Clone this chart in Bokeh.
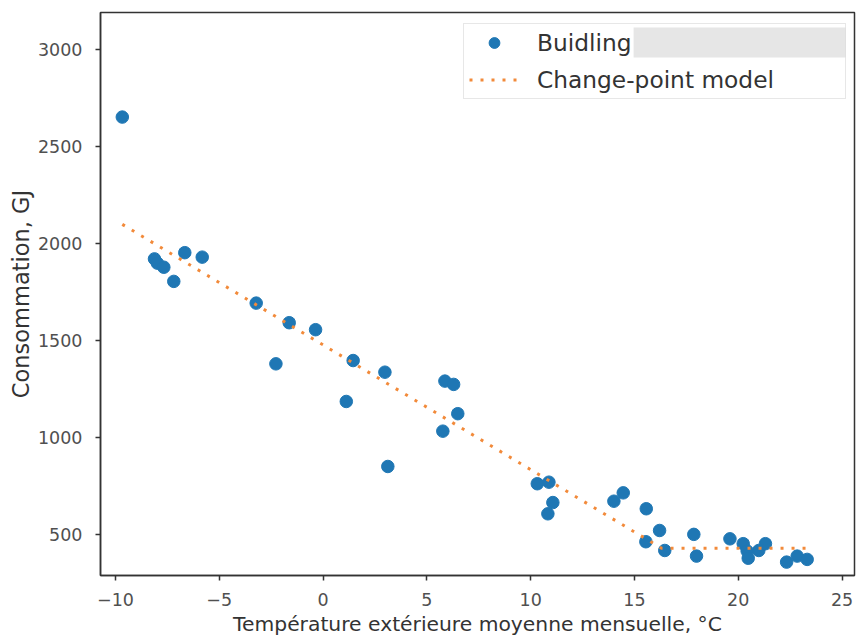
from bokeh.plotting import figure
from bokeh.models import (Range1d, FixedTicker, Legend, LegendItem,
                          BoxAnnotation, ColumnDataSource)
from bokeh.embed import file_html
from bokeh.resources import INLINE

# ---- data ----
temp = [-9.67, -8.12, -7.98, -7.67, -7.19, -6.66, -5.82, -3.22, -2.27, -1.63,
        -0.36, 1.12, 1.45, 2.98, 3.12, 5.77, 5.87, 6.29, 6.49, 10.32,
        10.83, 10.88, 11.07, 14.01, 14.46, 15.55, 15.57, 16.21, 16.46, 17.86,
        17.99, 19.60, 20.24, 20.43, 20.48, 20.99, 21.31, 22.33, 22.84, 23.32]
consumption = [2653, 1922, 1900, 1879, 1806, 1954, 1931, 1694, 1381, 1593,
               1557, 1187, 1398, 1338, 852, 1034, 1292, 1275, 1124, 763,
               608, 771, 666, 673, 716, 464, 634, 522, 419, 502,
               390, 479, 454, 416, 379, 419, 454, 359, 390, 373]

model_temp = [-9.67, 16.3, 23.32]
model_cons = [2100, 431, 431]

x_ticks = [-10, -5, 0, 5, 10, 15, 20, 25]
x_tick_labels = ["\u221210", "\u22125", "0", "5", "10", "15", "20", "25"]
y_ticks = [500, 1000, 1500, 2000, 2500, 3000]

series_names = ["Buidling", "Change-point model"]
x_label = "Température extérieure moyenne mensuelle, °C"
y_label = "Consommation, GJ"

# redaction patch over the first legend label (data space)
redact = dict(left=14.96, right=25.17, bottom=2960, top=3115)

FONT = "DejaVu Sans"
BLUE = "#1f77b4"
ORANGE = "#f28a3a"
SPINE = "#333333"

p = figure(frame_width=754, frame_height=563,
           x_range=Range1d(-10.72, 25.60), y_range=Range1d(290, 3192),
           output_backend="svg", toolbar_location=None,
           min_border_left=100, min_border_right=3, min_border_top=12,
           min_border_bottom=65)

src = ColumnDataSource(dict(temp=temp, cons=consumption))
r_pts = p.scatter(x="temp", y="cons", source=src, size=12.5,
                  fill_color=BLUE, line_color=BLUE)
r_line = p.line(x=model_temp, y=model_cons, line_color=ORANGE, line_width=3,
                line_dash="3 8", line_cap="butt")

p.grid.visible = False
p.outline_line_color = SPINE
p.outline_line_width = 1.5
p.outline_line_alpha = 1
p.background_fill_color = "white"
p.border_fill_color = "white"

p.xaxis.ticker = FixedTicker(ticks=x_ticks)
p.xaxis.major_label_overrides = {t: l for t, l in zip(x_ticks, x_tick_labels)}
p.yaxis.ticker = FixedTicker(ticks=y_ticks)

for ax in (p.xaxis[0], p.yaxis[0]):
    ax.axis_line_color = SPINE
    ax.axis_line_width = 1.5
    ax.major_tick_line_color = SPINE
    ax.major_tick_line_width = 1.5
    ax.major_tick_out = 5
    ax.major_tick_in = 0
    ax.minor_tick_out = 0
    ax.minor_tick_in = 0
    ax.major_label_text_font = FONT
    ax.major_label_text_font_size = "17.5px"
    ax.major_label_text_color = "#505050"
    ax.axis_label_text_font = FONT
    ax.axis_label_text_font_style = "normal"
    ax.axis_label_text_color = "#333333"

p.xaxis.axis_label = x_label
p.xaxis.axis_label_text_font_size = "20.3px"
p.xaxis.major_label_standoff = 12
p.xaxis.axis_label_standoff = 3
p.yaxis.axis_label = y_label
p.yaxis.axis_label_text_font_size = "22.5px"
p.yaxis.major_label_standoff = 13
p.yaxis.axis_label_standoff = 1

# grey redaction patch, drawn beneath the (transparent) legend
box = BoxAnnotation(left=redact["left"], right=redact["right"],
                    bottom=redact["bottom"], top=redact["top"],
                    fill_color="#e6e6e6", fill_alpha=1, line_color=None,
                    level="underlay")
p.add_layout(box)

legend = Legend(items=[LegendItem(label=series_names[0], renderers=[r_pts]),
                       LegendItem(label=series_names[1], renderers=[r_line])],
                location=(363, 476))
legend.label_text_font = FONT
legend.label_text_font_size = "23.3px"
legend.label_text_color = "#333333"
legend.label_height = 27
legend.glyph_height = 27
legend.glyph_width = 50
legend.label_standoff = 18
legend.label_width = 303
legend.spacing = 10
legend.padding = 5
legend.margin = 0
legend.border_line_color = "#d0d0d0"
legend.border_line_width = 1
legend.background_fill_alpha = 0
p.add_layout(legend, "center")

open("out.html", "w").write(file_html(p, INLINE))
